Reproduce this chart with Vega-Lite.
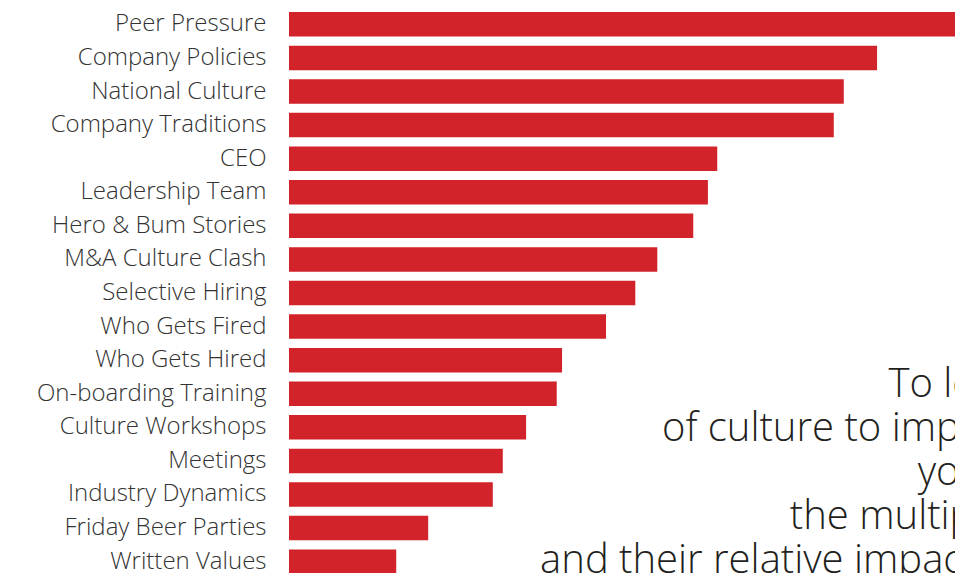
{
  "$schema": "https://vega.github.io/schema/vega-lite/v6.json",
  "autosize": {"type": "none"},
  "padding": {"left": 289, "top": 0, "right": 0, "bottom": 0},
  "width": 666,
  "height": 586,
  "background": "white",
  "config": {"view": {"stroke": null}},
  "layer": [
    {
      "data": {"values": [
        {"factor": "Peer Pressure", "impact": 105},
        {"factor": "Company Policies", "impact": 88.3},
        {"factor": "National Culture", "impact": 83.3},
        {"factor": "Company Traditions", "impact": 81.8},
        {"factor": "CEO", "impact": 64.3},
        {"factor": "Leadership Team", "impact": 62.9},
        {"factor": "Hero & Bum Stories", "impact": 60.7},
        {"factor": "M&A Culture Clash", "impact": 55.3},
        {"factor": "Selective Hiring", "impact": 52.0},
        {"factor": "Who Gets Fired", "impact": 47.6},
        {"factor": "Who Gets Hired", "impact": 41.0},
        {"factor": "On-boarding Training", "impact": 40.2},
        {"factor": "Culture Workshops", "impact": 35.6},
        {"factor": "Meetings", "impact": 32.1},
        {"factor": "Industry Dynamics", "impact": 30.6},
        {"factor": "Friday Beer Parties", "impact": 20.9},
        {"factor": "Written Values", "impact": 16.1}
      ]},
      "mark": {"type": "bar", "color": "#d2232a", "clip": true},
      "encoding": {
        "y": {
          "field": "factor", "type": "nominal", "sort": null,
          "scale": {"paddingInner": 0.27, "paddingOuter": 0.36},
          "axis": {"title": null, "domain": false, "ticks": false, "labelPadding": 23, "labelFontSize": 24, "labelFont": "Open Sans", "labelFontWeight": 300, "labelColor": "#333333", "labelLimit": 300}
        },
        "x": {"field": "impact", "type": "quantitative", "scale": {"domain": [0, 100], "nice": false}, "axis": null}
      }
    },
    {
      "data": {"values": [
        {"line": 1, "start": 90.0, "text": "To leverage the power"},
        {"line": 2, "start": 56.0, "text": "of culture to improve performance,"},
        {"line": 3, "start": 94.4, "text": "you need to understand"},
        {"line": 4, "start": 75.2, "text": "the multiple levers of culture"},
        {"line": 5, "start": 37.7, "text": "and their relative impact."}
      ]},
      "mark": {"type": "text", "align": "left", "baseline": "alphabetic", "fontSize": 40, "font": "Open Sans", "fontWeight": 300, "color": "#231f20", "clip": true},
      "encoding": {
        "x": {"field": "start", "type": "quantitative"},
        "y": {"field": "line", "type": "quantitative", "scale": {"domain": [-8.02, 5.3], "reverse": true, "nice": false, "zero": false}, "axis": null},
        "text": {"field": "text"}
      }
    }
  ],
  "resolve": {"scale": {"y": "independent"}}
}
